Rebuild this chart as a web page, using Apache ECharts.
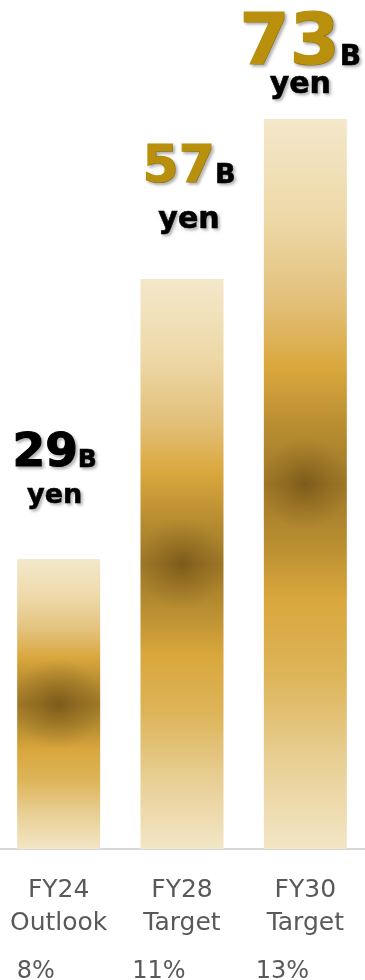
<!DOCTYPE html>
<html>
<head>
<meta charset="utf-8">
<script src="https://cdn.jsdelivr.net/npm/echarts@6/dist/echarts.min.js"></script>
<style>
  html, body { margin: 0; padding: 0; background: #ffffff; }
  #chart { width: 365px; height: 980px; }
</style>
</head>
<body>
<div id="chart"></div>
<script>
// Operating profit by plan stage
const periods = ['FY24', 'FY28', 'FY30'];
const planTypes = ['Outlook', 'Target', 'Target'];
const profitBillionYen = [29, 57, 73];
const unitSuffix = 'B';
const unitWord = 'yen';
const marginLabels = ['8%', '11%', '13%'];

const categories = periods.map((p, i) => p + '\n' + planTypes[i]);

const FONT = "'DejaVu Sans', Verdana, sans-serif";
const GREY_TEXT = '#595959';

// Headline look for each bar (number size, colour, distance above the bar)
const headlineLook = [
  { numSize: 47, unitSize: 25, yenSize: 27, yenLine: 38, color: '#000000', distance: 44, shift: -4 },
  { numSize: 52, unitSize: 27, yenSize: 30, yenLine: 52, color: '#B8900C', distance: 33, shift: 7 },
  { numSize: 72, unitSize: 28, yenSize: 30, yenLine: 8, color: '#B8900C', distance: 30, shift: -5 }
];

const shadow = {
  textShadowColor: 'rgba(0,0,0,0.28)',
  textShadowBlur: 3,
  textShadowOffsetX: 2,
  textShadowOffsetY: 2
};

function headlineLabel(look) {
  // lift the small "B" so it shares the baseline of the big number
  const lift = Math.round(0.2 * (look.numSize - look.unitSize));
  return {
    show: true,
    position: 'top',
    distance: look.distance,
    offset: [look.shift, 0],
    align: 'center',
    formatter: (p) => '{n|' + p.value + '}{u|' + unitSuffix + '}\n{y|' + unitWord + '}',
    rich: {
      n: Object.assign({
        fontFamily: FONT, fontWeight: 'bold', fontSize: look.numSize,
        lineHeight: look.numSize, color: look.color, verticalAlign: 'bottom',
        textBorderColor: look.color, textBorderWidth: 1.2
      }, shadow),
      u: Object.assign({
        fontFamily: FONT, fontWeight: 'bold', fontSize: look.unitSize,
        color: '#000000', verticalAlign: 'bottom', padding: [0, 0, lift, 0],
        textBorderColor: '#000000', textBorderWidth: 0.6
      }, shadow),
      y: Object.assign({
        fontFamily: FONT, fontWeight: 'bold', fontSize: look.yenSize,
        lineHeight: look.yenLine, color: '#000000', align: 'center',
        textBorderColor: '#000000', textBorderWidth: 0.6
      }, shadow)
    }
  };
}

// Soft gold column: pale at both ends, deep amber through the middle
const goldBand = {
  type: 'linear', x: 0, y: 0, x2: 0, y2: 1,
  colorStops: [
    { offset: 0.00, color: '#F4E8CB' },
    { offset: 0.14, color: '#EDD8A6' },
    { offset: 0.25, color: '#E3C07A' },
    { offset: 0.34, color: '#D9A73D' },
    { offset: 0.43, color: '#B58B30' },
    { offset: 0.50, color: '#A07828' },
    { offset: 0.57, color: '#B58B30' },
    { offset: 0.66, color: '#D9A73D' },
    { offset: 0.76, color: '#DDB458' },
    { offset: 0.87, color: '#E7CD90' },
    { offset: 1.00, color: '#F3E6C6' }
  ]
};

// Dark core glowing out of the middle of each column
const darkCore = {
  type: 'radial', x: 0.5, y: 0.5, r: 0.55,
  colorStops: [
    { offset: 0.0, color: 'rgba(80,56,10,0.45)' },
    { offset: 0.5, color: 'rgba(90,64,14,0.22)' },
    { offset: 1.0, color: 'rgba(100,72,20,0)' }
  ]
};

const chart = echarts.init(document.getElementById('chart'), null, { renderer: 'canvas' });

chart.setOption({
  animation: false,
  backgroundColor: '#ffffff',
  grid: {
    left: -3, right: -2, top: 49, bottom: 131,
    containLabel: false,
    outerBoundsMode: 'none'
  },
  xAxis: [
    {
      type: 'category',
      data: categories,
      position: 'bottom',
      axisLine: { show: true, lineStyle: { color: '#D9D9D9', width: 2 } },
      axisTick: { show: false },
      axisLabel: {
        interval: 0,
        margin: 25,
        fontFamily: FONT,
        fontSize: 25,
        lineHeight: 33,
        color: GREY_TEXT
      }
    },
    {
      type: 'category',
      data: categories,
      position: 'bottom',
      axisLine: { show: false },
      axisTick: { show: false },
      axisLabel: {
        interval: 0,
        margin: 111,
        fontFamily: FONT,
        fontSize: 24,
        lineHeight: 24,
        color: GREY_TEXT,
        padding: [0, 46, 0, 0],
        formatter: (v, i) => marginLabels[i]
      }
    }
  ],
  yAxis: {
    type: 'value',
    min: 0,
    max: 80,
    show: false,
    splitLine: { show: false }
  },
  series: [
    {
      type: 'bar',
      xAxisIndex: 0,
      barWidth: 83,
      data: profitBillionYen.map((v, i) => ({ value: v, label: headlineLabel(headlineLook[i]) })),
      itemStyle: { color: goldBand }
    },
    {
      type: 'bar',
      xAxisIndex: 0,
      barWidth: 83,
      barGap: '-100%',
      silent: true,
      data: profitBillionYen,
      itemStyle: { color: darkCore },
      label: { show: false }
    }
  ]
});
</script>
</body>
</html>
